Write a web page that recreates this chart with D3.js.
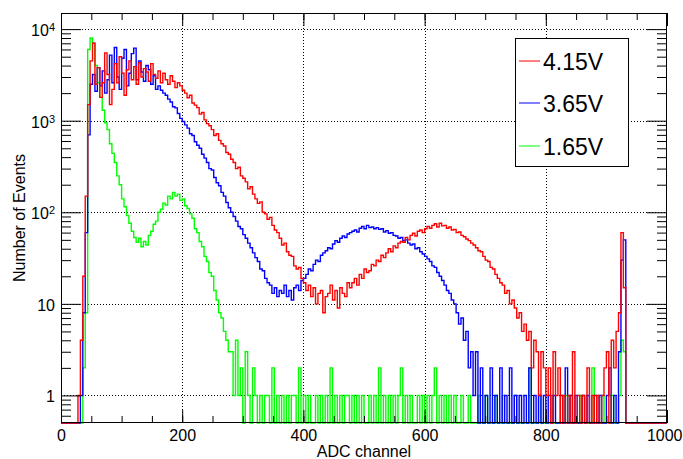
<!DOCTYPE html>
<html>
<head>
<meta charset="utf-8">
<script src="https://cdn.jsdelivr.net/npm/d3@7/dist/d3.min.js"></script>
<style>
  html, body { margin: 0; padding: 0; background: #fff; }
  #chart { width: 683px; height: 459px; }
  #chart text { font-family: "Liberation Sans", Arial, Helvetica, sans-serif; fill: #000; }
</style>
</head>
<body>
<div id="chart"></div>
<script>
// ADC spectra, 4 channels per bin, bin i starts at channel 4*i
const binWidth = 4;

const red415 = [
  0, 0, 0, 0, 0, 0, 0, 1, 4, 20,
  150, 1500, 4500, 7000, 2500, 3800, 1800, 2600, 5500, 3200,
  1500, 2200, 4200, 2600, 5000, 3300, 1900, 3600, 4500, 2800,
  3900, 2500, 4300, 3000, 3700, 3400, 2700, 4200, 3200, 2900,
  3500, 2600, 3300, 2800, 2500, 3100, 2700, 2300, 2600, 2400,
  2150, 2000, 1780, 1900, 1560, 1480, 1390, 1180, 1230, 1020,
  930, 880, 800, 690, 720, 610, 560, 530, 450, 430,
  380, 350, 300, 310, 250, 235, 215, 180, 190, 158,
  140, 125, 130, 100, 96, 84, 88, 72, 64, 60,
  52, 44, 46, 37, 34, 33, 26, 24, 25, 19,
  17, 14, 16, 12, 15, 10, 13, 14, 8, 12,
  13, 16, 11, 14, 9, 15, 13, 12, 17, 15,
  17, 19, 16, 21, 19, 24, 22, 23, 27, 26,
  30, 29, 34, 32, 36, 40, 37, 43, 41, 46,
  48, 47, 53, 50, 56, 59, 55, 62, 64, 60,
  66, 70, 67, 72, 75, 69, 76, 71, 72, 67,
  69, 64, 65, 60, 61, 56, 54, 51, 49, 46,
  44, 41, 38, 37, 33, 30, 29, 25, 24, 21,
  19, 17, 16, 13, 14, 10, 11, 9, 7, 8,
  5, 6, 4, 5, 2, 4, 3, 1, 3, 2,
  1, 2, 0, 3, 1, 2, 0, 1, 0, 1,
  0, 3, 0, 1, 0, 1, 0, 2, 0, 1,
  0, 1, 0, 1, 2, 3, 0, 4, 2, 5,
  8, 60, 15, 0, 0, 0, 0, 0, 0, 0,
  0, 0, 0, 0, 0, 0, 0, 0, 0, 0
];

const blue365 = [
  0, 0, 0, 0, 0, 0, 0, 0, 1, 8,
  60, 700, 2500, 3200, 2100, 3800, 2400, 3500, 2000, 2800,
  5200, 2600, 6300, 3000, 2200, 4800, 6000, 2400, 3300, 5400,
  6200, 2800, 4500, 3400, 2700, 4000, 3600, 2500, 3100, 2200,
  2400, 2150, 2000, 1900, 1720, 1600, 1420, 1380, 1200, 1060,
  980, 900, 830, 720, 690, 590, 540, 500, 430, 390,
  350, 300, 290, 240, 210, 195, 165, 150, 128, 112,
  100, 90, 80, 70, 66, 57, 52, 46, 41, 36,
  32, 29, 24, 23, 19, 17, 16, 13, 15, 12,
  14, 13, 16, 12, 14, 11, 15, 16, 14, 18,
  19, 21, 24, 23, 27, 30, 29, 34, 36, 38,
  41, 40, 45, 49, 47, 52, 55, 53, 58, 60,
  62, 64, 61, 67, 70, 66, 72, 68, 69, 66,
  68, 65, 66, 61, 63, 59, 60, 56, 55, 52,
  53, 49, 50, 46, 44, 45, 40, 41, 37, 35,
  33, 31, 29, 26, 25, 22, 20, 18, 16, 14,
  13, 11, 10, 8, 6, 7, 4, 5, 2, 3,
  1, 3, 0, 2, 0, 1, 0, 2, 0, 1,
  0, 2, 0, 1, 0, 2, 0, 1, 0, 1,
  0, 1, 0, 2, 0, 1, 0, 1, 0, 1,
  0, 1, 0, 1, 0, 0, 1, 0, 2, 0,
  1, 0, 1, 0, 0, 1, 0, 1, 0, 0,
  1, 0, 1, 0, 0, 1, 2, 0, 1, 0,
  3, 30, 50, 0, 0, 0, 0, 0, 0, 0,
  0, 0, 0, 0, 0, 0, 0, 0, 0, 0
];

const green165 = [
  0, 0, 0, 0, 0, 0, 0, 0, 0, 2,
  8, 6000, 8000, 7000, 4000, 2600, 1800, 1300, 950, 800,
  560, 440, 350, 250, 200, 140, 115, 92, 76, 62,
  53, 47, 52, 42, 48, 44, 56, 62, 74, 80,
  100, 108, 126, 120, 150, 140, 165, 150, 158, 135,
  140, 118, 110, 96, 86, 66, 60, 48, 42, 33,
  29, 22, 20, 14, 11, 8, 7, 5, 4, 3,
  3, 1, 4, 1, 2, 0, 3, 1, 0, 2,
  1, 0, 1, 0, 1, 1, 0, 2, 0, 1,
  0, 1, 0, 1, 0, 1, 1, 0, 2, 0,
  1, 0, 1, 0, 0, 1, 0, 1, 0, 1,
  0, 2, 0, 1, 0, 1, 0, 1, 1, 0,
  1, 0, 1, 0, 1, 0, 0, 1, 0, 1,
  0, 2, 0, 1, 0, 1, 0, 1, 0, 1,
  2, 0, 1, 0, 1, 0, 0, 1, 0, 1,
  0, 1, 0, 1, 2, 0, 1, 0, 1, 0,
  1, 0, 1, 0, 0, 1, 0, 0, 1, 0,
  0, 0, 1, 0, 0, 1, 0, 0, 0, 1,
  0, 0, 1, 0, 0, 0, 0, 1, 0, 0,
  0, 0, 0, 2, 0, 0, 0, 1, 0, 0,
  0, 0, 1, 0, 0, 0, 0, 0, 1, 0,
  0, 0, 0, 0, 1, 0, 0, 0, 0, 2,
  0, 0, 0, 1, 0, 0, 0, 1, 0, 0,
  1, 4, 3, 0, 0, 0, 0, 0, 0, 0,
  0, 0, 0, 0, 0, 0, 0, 0, 0, 0
];

const legendLabels = ['4.15V', '3.65V', '1.65V'];
const legendColors = ['#ff0000', '#0000ff', '#00ff00'];

const xTicks = [0, 200, 400, 600, 800, 1000];
const xMinorTicks = d3.range(50, 1000, 50);
const yTicks = [1, 10, 100, 1000, 10000];
const yTickLabels = ['1', '10', '10^2', '10^3', '10^4'];
const yMinorTicks = [0.6, 0.7, 0.8, 0.9]
  .concat(...[1, 10, 100, 1000].map((k) => d3.range(2, 10).map((m) => m * k)));

const xTitle = 'ADC channel';
const yTitle = 'Number of Events';

(function () {
  const W = 683, H = 459;
  const frame = { left: 61, right: 667, top: 13, bottom: 423 };

  const svg = d3.select('#chart').append('svg')
    .attr('width', W).attr('height', H);

  const x = d3.scaleLinear().domain([0, 1000]).range([frame.left, frame.right]);
  const y = d3.scaleLog().domain([0.5, 15000]).range([frame.bottom, frame.top]);
  const yMin = y.domain()[0];

  svg.append('defs').append('clipPath').attr('id', 'frameClip')
    .append('rect')
    .attr('x', frame.left).attr('y', frame.top - 1)
    .attr('width', frame.right - frame.left)
    .attr('height', frame.bottom - frame.top + 2);

  // dotted grid at major ticks
  const grid = svg.append('g')
    .attr('stroke', '#000').attr('stroke-width', 1)
    .attr('stroke-dasharray', '1,2');
  grid.selectAll('line.gx')
    .data(xTicks.filter((d) => d > 0 && d < 1000))
    .enter().append('line')
    .attr('x1', (d) => Math.round(x(d)) + 0.5).attr('x2', (d) => Math.round(x(d)) + 0.5)
    .attr('y1', frame.top).attr('y2', frame.bottom);
  grid.selectAll('line.gy')
    .data(yTicks)
    .enter().append('line')
    .attr('y1', (d) => Math.round(y(d)) + 0.5).attr('y2', (d) => Math.round(y(d)) + 0.5)
    .attr('x1', frame.left).attr('x2', frame.right);

  // step outline of a histogram; empty bins sit on the lower edge
  const step = d3.line()
    .x((d) => x(d[0]))
    .y((d) => y(Math.max(d[1], yMin)))
    .curve(d3.curveStepAfter);

  function histPoints(vals) {
    const pts = vals.map((v, i) => [i * binWidth, v]);
    pts.push([vals.length * binWidth, vals[vals.length - 1]]);
    return pts;
  }

  const plot = svg.append('g').attr('clip-path', 'url(#frameClip)');

  function drawHist(vals, color) {
    plot.append('path')
      .datum(histPoints(vals))
      .attr('d', step)
      .attr('fill', 'none')
      .attr('stroke', color)
      .attr('stroke-width', 1.4)
      .attr('stroke-linejoin', 'miter');
  }

  drawHist(green165, legendColors[2]);
  drawHist(blue365, legendColors[1]);

  // axes, ROOT style: ticks inside the frame on all four sides
  function styleAxis(g) {
    g.select('.domain').remove();
    g.selectAll('line').attr('stroke', '#000');
    g.selectAll('text').attr('font-size', 16).attr('font-family', null);
  }

  const xAxisB = svg.append('g')
    .attr('transform', `translate(0,${frame.bottom})`)
    .call(d3.axisBottom(x).tickValues(xTicks).tickSize(-13).tickPadding(7)
      .tickFormat(d3.format('d')))
    .call(styleAxis);
  // keep the last label inside the page
  xAxisB.selectAll('.tick text').filter((d) => d === 1000)
    .attr('text-anchor', 'end').attr('x', 15);

  svg.append('g')
    .attr('transform', `translate(0,${frame.bottom})`)
    .call(d3.axisBottom(x).tickValues(xMinorTicks).tickSize(-7).tickFormat(''))
    .call(styleAxis);
  svg.append('g')
    .attr('transform', `translate(0,${frame.top})`)
    .call(d3.axisTop(x).tickValues(xTicks).tickSize(-13).tickFormat(''))
    .call(styleAxis);
  svg.append('g')
    .attr('transform', `translate(0,${frame.top})`)
    .call(d3.axisTop(x).tickValues(xMinorTicks).tickSize(-7).tickFormat(''))
    .call(styleAxis);

  const yAxisL = svg.append('g')
    .attr('transform', `translate(${frame.left},0)`)
    .call(d3.axisLeft(y).tickValues(yTicks).tickSize(-20).tickPadding(6)
      .tickFormat((d, i) => yTickLabels[i]))
    .call(styleAxis);
  svg.append('g')
    .attr('transform', `translate(${frame.left},0)`)
    .call(d3.axisLeft(y).tickValues(yMinorTicks).tickSize(-10).tickFormat(''))
    .call(styleAxis);
  svg.append('g')
    .attr('transform', `translate(${frame.right},0)`)
    .call(d3.axisRight(y).tickValues(yTicks).tickSize(-20).tickFormat(''))
    .call(styleAxis);
  svg.append('g')
    .attr('transform', `translate(${frame.right},0)`)
    .call(d3.axisRight(y).tickValues(yMinorTicks).tickSize(-10).tickFormat(''))
    .call(styleAxis);

  // turn "10^n" into 10 with a superscript
  yAxisL.selectAll('.tick text').each(function () {
    const t = d3.select(this);
    const parts = t.text().split('^');
    t.attr('dy', '0.4em');
    if (parts.length === 2) {
      t.text(parts[0]);
      t.append('tspan').text(parts[1])
        .attr('font-size', 11).attr('dy', '-0.45em');
    }
  });

  // frame
  svg.append('rect')
    .attr('x', frame.left + 0.5).attr('y', frame.top + 0.5)
    .attr('width', frame.right - frame.left - 1)
    .attr('height', frame.bottom - frame.top - 1)
    .attr('fill', 'none').attr('stroke', '#000').attr('stroke-width', 1);

  drawHist(red415, legendColors[0]);

  // titles
  svg.append('text')
    .attr('x', (frame.left + frame.right) / 2).attr('y', 457)
    .attr('text-anchor', 'middle').attr('font-size', 16)
    .text(xTitle);
  svg.append('text')
    .attr('transform', `translate(25,${(frame.top + frame.bottom) / 2}) rotate(-90)`)
    .attr('text-anchor', 'middle').attr('font-size', 16)
    .text(yTitle);

  // legend
  const lg = svg.append('g');
  lg.append('rect')
    .attr('x', 515.5).attr('y', 38.5).attr('width', 113).attr('height', 128)
    .attr('fill', '#fff').attr('stroke', '#000').attr('stroke-width', 1);
  const rowY = [61, 103, 146];
  legendLabels.forEach((lab, i) => {
    lg.append('line')
      .attr('x1', 519).attr('x2', 540)
      .attr('y1', rowY[i]).attr('y2', rowY[i])
      .attr('stroke', legendColors[i]).attr('stroke-width', 1);
    lg.append('text')
      .attr('x', 543).attr('y', rowY[i] + 8.5)
      .attr('font-size', 23)
      .text(lab);
  });
})();
</script>
</body>
</html>
